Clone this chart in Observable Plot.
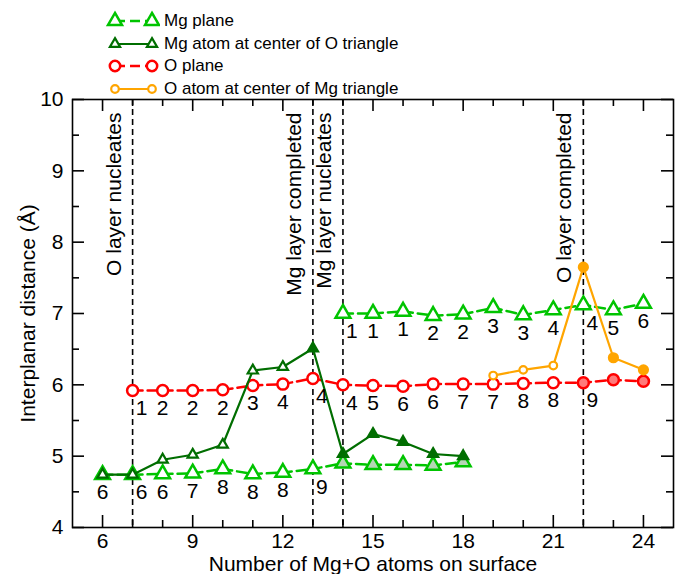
<!DOCTYPE html>
<html>
<head>
<meta charset="utf-8">
<script src="https://cdn.jsdelivr.net/npm/d3@7"></script>
<script src="https://cdn.jsdelivr.net/npm/@observablehq/plot@0.6"></script>
<style>
  body { margin: 0; background: #fff; font-family: "Liberation Sans", Arial, sans-serif; }
  #wrap { position: relative; width: 675px; height: 574px; overflow: hidden; }
  #legend { position: absolute; left: 0; top: 0; width: 675px; height: 99px; }
  .row { position: absolute; left: 100px; height: 22px; display: flex; align-items: center; font-size: 17px; color: #000; white-space: nowrap; }
  .row svg { display: block; margin-right: 4px; }
</style>
</head>
<body>
<div id="wrap"><div id="chart"></div><div id="legend"></div></div>
<script>
// ---------------- data ----------------
// Mg plane, lower layer (dashed light green)
const mgLowX      = [6, 7, 8, 9, 10, 11, 12, 13, 14, 15, 16, 17, 18];
const mgLowY      = [4.74, 4.74, 4.75, 4.76, 4.82, 4.75, 4.77, 4.82, 4.90, 4.88, 4.88, 4.87, 4.92];
const mgLowLabel  = ["6", "6", "6", "7", "8", "8", "8", "9", "", "", "", "", ""];
const mgLowFilled = [14, 15, 16, 17, 18];
// Mg plane, upper layer (dashed light green)
const mgHighX     = [14, 15, 16, 17, 18, 19, 20, 21, 22, 23, 24];
const mgHighY     = [7.00, 7.00, 7.03, 6.97, 6.99, 7.08, 6.98, 7.05, 7.12, 7.05, 7.14];
const mgHighLabel = ["1", "1", "1", "2", "2", "3", "3", "4", "4", "5", "6"];
// Mg atom at center of O triangle (solid dark green)
const mgAtomX      = [6, 7, 8, 9, 10, 11, 12, 13, 14, 15, 16, 17, 18];
const mgAtomY      = [4.74, 4.74, 4.95, 5.02, 5.16, 6.20, 6.25, 6.51, 5.03, 5.31, 5.20, 5.03, 5.00];
const mgAtomFilled = [13, 14, 15, 16, 17, 18];
// O plane (dashed red)
const oPlaneX      = [7, 8, 9, 10, 11, 12, 13, 14, 15, 16, 17, 18, 19, 20, 21, 22, 23, 24];
const oPlaneY      = [5.92, 5.92, 5.92, 5.93, 5.99, 6.01, 6.09, 6.00, 5.99, 5.98, 6.01, 6.01, 6.01, 6.02, 6.03, 6.03, 6.07, 6.05];
const oPlaneLabel  = ["1", "2", "2", "2", "3", "4", "4", "4", "5", "6", "6", "7", "7", "8", "8", "9", "", ""];
const oPlaneFilled = [22, 23, 24];
// O atom at center of Mg triangle (solid orange)
const oAtomX      = [19, 20, 21, 22, 23, 24];
const oAtomY      = [6.13, 6.21, 6.27, 7.65, 6.38, 6.21];
const oAtomFilled = [22, 23, 24];
// event markers
const eventX    = [7, 13, 14, 22];
const eventText = ["O layer nucleates", "Mg layer completed", "Mg layer nucleates", "O layer completed"];
// axes
const xTicks      = [6, 9, 12, 15, 18, 21, 24];
const xMinorTicks = [7, 8, 10, 11, 13, 14, 16, 17, 19, 20, 22, 23];
const yTicks      = [4, 5, 6, 7, 8, 9, 10];
const yMinorTicks = [4.5, 5.5, 6.5, 7.5, 8.5, 9.5];
const legendItems = ["Mg plane", "Mg atom at center of O triangle", "O plane", "O atom at center of Mg triangle"];

// ---------------- styles ----------------
const LG = "#00c400", DG = "#006e00", RED = "#ff0000", OR = "#ffa500";
const FONT = "Liberation Sans, Arial, Helvetica, sans-serif";
const W = 675, H = 574, mL = 72, mR = 2, mT = 99, mB = 47;
const plotW = W - mL - mR, plotH = H - mT - mB;

const rows = (xs, ys, extra = {}) => xs.map((x, i) => ({x, y: ys[i], ...Object.fromEntries(Object.entries(extra).map(([k, a]) => [k, a[i]]))}));
const mgLow  = rows(mgLowX, mgLowY, {label: mgLowLabel});
const mgHigh = rows(mgHighX, mgHighY, {label: mgHighLabel});
const mgAtom = rows(mgAtomX, mgAtomY);
const oPlane = rows(oPlaneX, oPlaneY, {label: oPlaneLabel});
const oAtom  = rows(oAtomX, oAtomY);

const labels = [...mgLow, ...mgHigh, ...oPlane].filter(d => d.label);
const atEvent = d => eventX.includes(d.x);

const isIn = arr => d => arr.includes(d.x);
const notIn = arr => d => !arr.includes(d.x);

const chart = Plot.plot({
  width: W, height: H,
  marginLeft: mL, marginRight: mR, marginTop: mT, marginBottom: mB,
  style: {fontFamily: FONT, fontSize: "21px", color: "black", background: "white"},
  x: {domain: [5, 25]},
  y: {domain: [4, 10]},
  marks: [
    // event lines + texts
    Plot.ruleX(eventX, {x: d => d, stroke: "black", strokeWidth: 1.6, strokeDasharray: "6,4"}),
    Plot.text(eventX, {x: d => d, y: 10, text: (d, i) => eventText[i], rotate: -90, textAnchor: "end", lineAnchor: "bottom", dx: -12, dy: 13, fontSize: 21, fill: "black"}),

    // O plane
    Plot.line(oPlane, {x: "x", y: "y", stroke: RED, strokeWidth: 2.5, strokeDasharray: "10,5"}),
    Plot.dot(oPlane.filter(notIn(oPlaneFilled)), {x: "x", y: "y", r: 5.5, stroke: RED, strokeWidth: 2.5, fill: "white"}),
    Plot.dot(oPlane.filter(isIn(oPlaneFilled)), {x: "x", y: "y", r: 5.5, stroke: RED, strokeWidth: 2.5, fill: "#ff7a7a"}),

    // Mg plane (two layers)
    Plot.line(mgLow, {x: "x", y: "y", stroke: LG, strokeWidth: 2.5, strokeDasharray: "10,5"}),
    Plot.line(mgHigh, {x: "x", y: "y", stroke: LG, strokeWidth: 2.5, strokeDasharray: "10,5"}),
    Plot.dot(mgLow.filter(notIn(mgLowFilled)), {x: "x", y: "y", symbol: "triangle", r: 5.5, stroke: LG, strokeWidth: 2.5, fill: "white"}),
    Plot.dot(mgLow.filter(isIn(mgLowFilled)), {x: "x", y: "y", symbol: "triangle", r: 5.5, stroke: LG, strokeWidth: 2.5, fill: "#b5d6b5"}),
    Plot.dot(mgHigh, {x: "x", y: "y", symbol: "triangle", r: 5.5, stroke: LG, strokeWidth: 2.5, fill: "white"}),

    // Mg atom at center of O triangle
    Plot.line(mgAtom, {x: "x", y: "y", stroke: DG, strokeWidth: 2.2}),
    Plot.dot(mgAtom.filter(notIn(mgAtomFilled)), {x: "x", y: "y", symbol: "triangle", r: 3.8, stroke: DG, strokeWidth: 2.2, fill: "white"}),
    Plot.dot(mgAtom.filter(isIn(mgAtomFilled)), {x: "x", y: "y", symbol: "triangle", r: 3.8, stroke: DG, strokeWidth: 2.2, fill: DG}),

    // O atom at center of Mg triangle
    Plot.line(oAtom, {x: "x", y: "y", stroke: OR, strokeWidth: 2.2}),
    Plot.dot(oAtom.filter(notIn(oAtomFilled)), {x: "x", y: "y", r: 3.8, stroke: OR, strokeWidth: 2.2, fill: "white"}),
    Plot.dot(oAtom.filter(isIn(oAtomFilled)), {x: "x", y: "y", r: 4.6, stroke: OR, strokeWidth: 2, fill: OR}),

    // point labels
    Plot.text(labels.filter(d => !atEvent(d)), {x: "x", y: "y", text: "label", dy: 18, fontSize: 21, fill: "black"}),
    Plot.text(labels.filter(atEvent), {x: "x", y: "y", text: "label", dy: 18, dx: 9, fontSize: 21, fill: "black"}),

    // frame and inward ticks on all four sides
    Plot.frame({stroke: "black", strokeWidth: 1.6}),
    Plot.tickX(xTicks, {x: d => d, insetTop: plotH - 12, stroke: "black", strokeWidth: 1.6}),
    Plot.tickX(xTicks, {x: d => d, insetBottom: plotH - 12, stroke: "black", strokeWidth: 1.6}),
    Plot.tickX(xMinorTicks, {x: d => d, insetTop: plotH - 7, stroke: "black", strokeWidth: 1.6}),
    Plot.tickX(xMinorTicks, {x: d => d, insetBottom: plotH - 7, stroke: "black", strokeWidth: 1.6}),
    Plot.tickY(yTicks, {y: d => d, insetRight: plotW - 12, stroke: "black", strokeWidth: 1.6}),
    Plot.tickY(yTicks, {y: d => d, insetLeft: plotW - 12, stroke: "black", strokeWidth: 1.6}),
    Plot.tickY(yMinorTicks, {y: d => d, insetRight: plotW - 7, stroke: "black", strokeWidth: 1.6}),
    Plot.tickY(yMinorTicks, {y: d => d, insetLeft: plotW - 7, stroke: "black", strokeWidth: 1.6}),

    // axis labels
    Plot.axisX(xTicks, {anchor: "bottom", tickSize: 0, tickPadding: 6, fontSize: 21, tickFormat: d3.format("d"), label: "Number of Mg+O atoms on surface", labelAnchor: "center", labelOffset: 43, labelArrow: "none"}),
    Plot.axisY(yTicks, {anchor: "left", tickSize: 0, tickPadding: 9, fontSize: 21, tickFormat: d3.format("d"), label: "Interplanar distance (Å)", labelAnchor: "center", labelOffset: 52, labelArrow: "none"})
  ]
});
document.getElementById("chart").appendChild(chart);

// ---------------- legend ----------------
const legendStyle = [
  {stroke: LG, dash: "10,5", sym: "tri", r: 5.2, sw: 2.5},
  {stroke: DG, dash: null, sym: "tri", r: 3.8, sw: 2.2},
  {stroke: RED, dash: "10,5", sym: "circle", r: 5.2, sw: 2.5},
  {stroke: OR, dash: null, sym: "circle", r: 3.8, sw: 2.2}
];
const rowCenters = [21, 44, 66, 89];
const legend = document.getElementById("legend");
legendItems.forEach((name, i) => {
  const s = legendStyle[i];
  const row = document.createElement("div");
  row.className = "row";
  row.style.top = (rowCenters[i] - 11) + "px";
  const path = d3.symbol(s.sym === "tri" ? d3.symbolTriangle : d3.symbolCircle, Math.PI * s.r * s.r)();
  const marker = cx => `<path d="${path}" transform="translate(${cx},11)" fill="white" stroke="${s.stroke}" stroke-width="${s.sw}"/>`;
  row.innerHTML = `<svg width="60" height="22"><line x1="15" x2="52" y1="11" y2="11" stroke="${s.stroke}" stroke-width="${s.sw}" ${s.dash ? `stroke-dasharray="${s.dash}"` : ""}/>${marker(15)}${marker(52)}</svg><span>${name}</span>`;
  legend.appendChild(row);
});
</script>
</body>
</html>
